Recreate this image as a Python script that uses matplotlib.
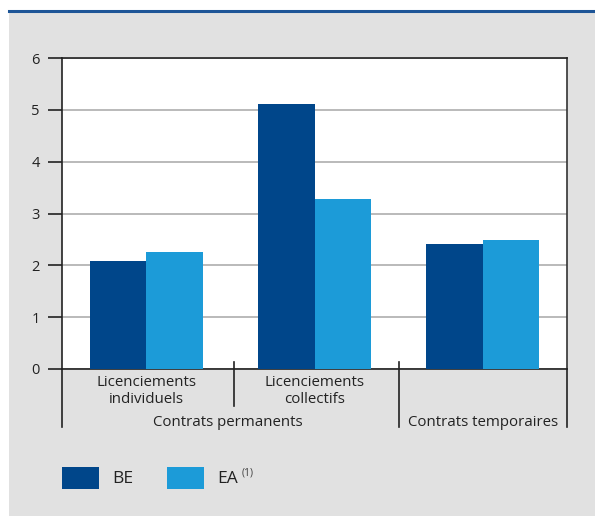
import matplotlib
matplotlib.use("Agg")
import matplotlib.pyplot as plt
from matplotlib.patches import Rectangle
from matplotlib.lines import Line2D
import numpy as np

plt.rcParams['font.family'] = ['Open Sans', 'DejaVu Sans']

# Data
subcategories = ["Licenciements\nindividuels", "Licenciements\ncollectifs", ""]
groups = ["Contrats permanents", "Contrats temporaires"]
be_values = [2.08, 5.12, 2.41]
ea_values = [2.26, 3.28, 2.49]
series_labels = ["BE", "EA"]
yticks = [0, 1, 2, 3, 4, 5, 6]

BE_COLOR = "#00468a"
EA_COLOR = "#1c9bd8"
BG = "#e1e1e1"
W, H = 595, 516

fig = plt.figure(figsize=(W / 100, H / 100), dpi=100)
fig.patch.set_facecolor("white")

def fx(px):
    return px / W

def fy(py):
    return 1 - py / H

# grey panel and top rule
fig.add_artist(Rectangle((fx(9), 0), 1 - fx(9), fy(12), transform=fig.transFigure,
                         facecolor=BG, edgecolor="none", zorder=-10))
fig.add_artist(Line2D([fx(9), 1], [fy(11), fy(11)], transform=fig.transFigure,
                      color="#1d5597", lw=2.2, zorder=-9))

left, right, top, bottom = 62, 567, 58, 369
ax = fig.add_axes([fx(left), fy(bottom), fx(right) - fx(left), (bottom - top) / H])
ax.set_facecolor("white")
ax.set_zorder(1)

x = np.arange(len(be_values))
bw = 0.335
ax.bar(x - bw / 2, be_values, bw, color=BE_COLOR, zorder=3)
ax.bar(x + bw / 2, ea_values, bw, color=EA_COLOR, zorder=3)

ax.set_xlim(-0.5, 2.5)
ax.set_ylim(0, 6)
ax.set_yticks(yticks)
ax.set_yticklabels([str(t) for t in yticks], fontsize=10.5, color="#222222")
ax.yaxis.grid(True, color="#b4b4b4", lw=1.3, zorder=1)
ax.set_axisbelow(True)
ax.tick_params(axis="y", length=10, width=1.2, pad=6, color="#222222")
ax.set_xticks([])
for s in ax.spines.values():
    s.set_color("#222222")
    s.set_linewidth(1.2)
ax.spines["right"].set_color("#333333")

# category labels under the axis
trans = ax.get_xaxis_transform()
for i, lab in enumerate(subcategories):
    if lab:
        ax.text(i, -0.018, lab, transform=trans, ha="center", va="top",
                fontsize=10.8, color="#222222", linespacing=1.25)

ax.text(0.485, -0.148, groups[0], transform=trans, ha="center", va="top",
        fontsize=10.8, color="#222222")
ax.text(2.0, -0.148, groups[1], transform=trans, ha="center", va="top",
        fontsize=10.8, color="#222222")

# separator lines below the axis
def vline(xd, y0px, y1px):
    y0 = (bottom - y0px) / (bottom - top)
    y1 = (bottom - y1px) / (bottom - top)
    ax.add_line(Line2D([xd, xd], [y0, y1], transform=trans, color="#222222",
                       lw=1.2, clip_on=False))

vline(-0.5, 369, 427)
vline(0.52, 362, 406)
vline(1.5, 362, 427)
vline(2.5, 369, 427)

# legend
def legend_item(x0, label, color, sup=None):
    fig.add_artist(Rectangle((fx(x0), fy(489)), fx(37), 22 / H,
                             transform=fig.transFigure, facecolor=color,
                             edgecolor="none"))
    fig.text(fx(x0 + 50), fy(479), label, ha="left", va="center",
             fontsize=12.5, color="#222222")
    if sup:
        fig.text(fx(x0 + 75), fy(473), sup, ha="left", va="center",
                 fontsize=7.5, color="#444444")

legend_item(62, series_labels[0], BE_COLOR)
legend_item(167, series_labels[1], EA_COLOR, "(1)")

fig.savefig("out.png", dpi=100, facecolor=fig.get_facecolor())
